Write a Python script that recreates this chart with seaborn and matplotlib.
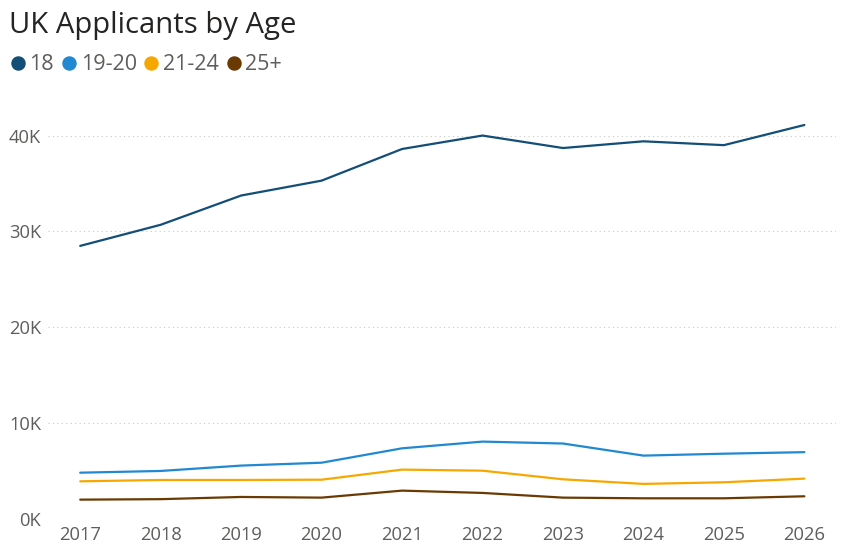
import matplotlib
matplotlib.use("Agg")
import matplotlib.pyplot as plt
from matplotlib.lines import Line2D
from matplotlib.ticker import FuncFormatter
import pandas as pd
import seaborn as sns

# Datos
years = [2017, 2018, 2019, 2020, 2021, 2022, 2023, 2024, 2025, 2026]
age_18 = [28500, 30700, 33750, 35300, 38600, 40000, 38700, 39400, 39000, 41100]
age_19_20 = [4860, 5040, 5600, 5900, 7400, 8100, 7900, 6640, 6840, 7000]
age_21_24 = [3960, 4100, 4100, 4130, 5180, 5070, 4170, 3690, 3860, 4240]
age_25_plus = [2050, 2100, 2330, 2260, 2990, 2750, 2260, 2190, 2190, 2400]

groups = ["18", "19-20", "21-24", "25+"]
colores = ["#134E78", "#2189D1", "#F6A800", "#6B3A03"]

df = pd.DataFrame({
    "Year": years * 4,
    "Applicants": age_18 + age_19_20 + age_21_24 + age_25_plus,
    "Age": [g for g in groups for _ in years],
})

sns.set_style("white")
plt.rcParams["font.family"] = ["Open Sans", "DejaVu Sans"]

fig = plt.figure(figsize=(8.47, 5.59), dpi=100)
ax = fig.add_axes([0.0567, 0.071, 0.930, 0.750])

sns.lineplot(data=df, x="Year", y="Applicants", hue="Age", hue_order=groups,
             palette=colores, linewidth=1.6, legend=False, ax=ax)

ax.set_xlim(2016.6, 2026.39)
ax.set_ylim(0, 43700)
ax.set_xticks(years)
ax.set_yticks([0, 10000, 20000, 30000, 40000])
ax.yaxis.set_major_formatter(FuncFormatter(lambda v, p: f"{int(v / 1000)}K"))
ax.grid(axis="y", color="#C8C8C8", linestyle=(0, (1, 3)), linewidth=0.8)
ax.grid(axis="x", visible=False)
for s in ax.spines.values():
    s.set_visible(False)
ax.tick_params(axis="both", length=0, labelsize=13.2, labelcolor="#605E5C")
ax.tick_params(axis="y", pad=5)
ax.tick_params(axis="x", pad=5)
ax.set_xlabel("")
ax.set_ylabel("")

# Título y leyenda
fig.text(0.011, 0.9404, "UK Applicants by Age", fontsize=21.1, color="#252423",
         ha="left", va="baseline")
handles = [Line2D([], [], marker="o", linestyle="", markersize=9.4,
                  markerfacecolor=c, markeredgecolor=c) for c in colores]
fig.legend(handles, groups, loc="center left", bbox_to_anchor=(9 / 847, 0.884),
           ncol=4, frameon=False, fontsize=15.5, handletextpad=0.15,
           columnspacing=0.28, handlelength=0.8, borderpad=0, borderaxespad=0,
           labelcolor="#605E5C")

fig.savefig("out.png", dpi=100)
